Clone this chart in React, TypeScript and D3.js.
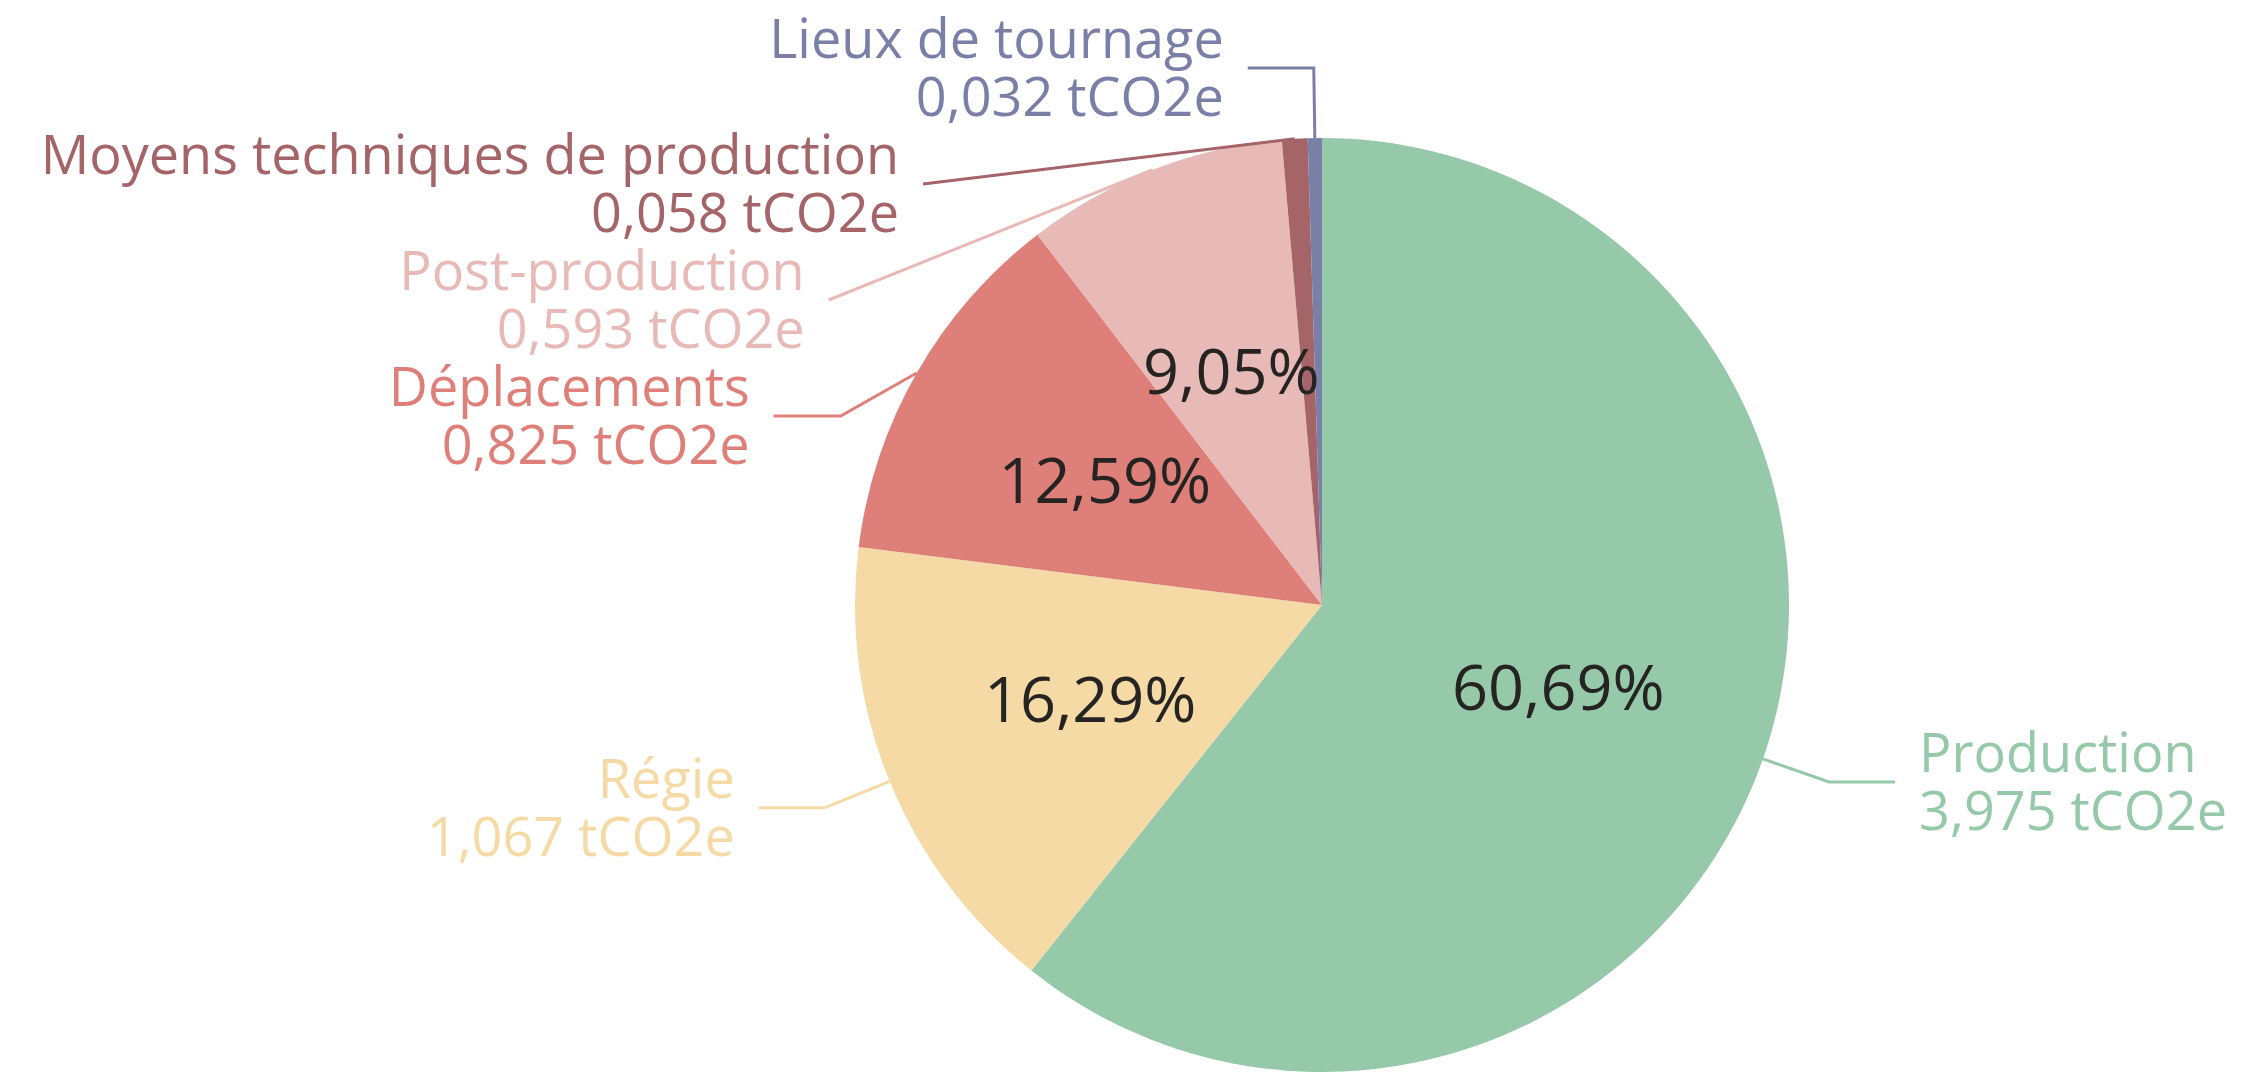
import React from 'react';
import * as d3 from 'd3';

// categories and values (tCO2e)
const categories = ['Production', 'Régie', 'Déplacements', 'Post-production', 'Moyens techniques de production', 'Lieux de tournage'];
const values = [3.975, 1.067, 0.8246, 0.593, 0.058, 0.032];
const colors = ['#95C9AA', '#F5DAA6', '#DF7F79', '#E8BAB7', '#A46468', '#7A7FA8'];

const width = 2262;
const height = 1072;
const cx = 1322;
const cy = 605;
const radius = 467;

const fmtVal = (v: number) => d3.format('.3f')(v).replace('.', ',') + ' tCO2e';
const fmtPct = (v: number) => d3.format('.2f')(v * 100).replace('.', ',') + '%';

const App = () => {
  const data = categories.map((name, i) => ({ name, value: values[i], color: colors[i] }));
  const total = d3.sum(values);

  const pie = d3.pie<any>().sort(null).value((d) => d.value);
  const arcs = pie(data);
  const arc = d3.arc<any>().innerRadius(0).outerRadius(radius);

  // outside label layout: radial elbow, pushed down when labels collide
  const elbowR = radius * 1.15;
  const endR = 580;
  const blockH = 116;
  const labels = arcs.map((a, i) => {
    const mid = (a.startAngle + a.endAngle) / 2;
    const side = Math.sin(mid) >= 0 ? 1 : -1;
    return { i, mid, side, natural: cy - Math.cos(mid) * elbowR, y: 0 };
  });
  [1, -1].forEach((s) => {
    const group = labels.filter((l) => l.side === s).sort((a, b) => a.natural - b.natural);
    let prev = -Infinity;
    group.forEach((l) => {
      l.y = Math.max(l.natural, prev + blockH);
      prev = l.y;
    });
  });

  const line = d3.line();

  return (
    <svg width={width} height={height} style={{ position: 'absolute', left: 0, top: 0, background: '#fff' }}
      fontFamily="'Open Sans', 'Noto Sans', sans-serif">
      <g transform={`translate(${cx},${cy})`}>
        {arcs.map((a, i) => (
          <path key={i} d={arc(a) as string} fill={data[i].color} />
        ))}
      </g>
      {labels.map((l) => {
        const d = data[l.i];
        const p0: [number, number] = [cx + Math.sin(l.mid) * radius, cy - Math.cos(l.mid) * radius];
        const pushed = l.y - l.natural;
        let pts: [number, number][];
        let endX: number;
        if (pushed < 1) {
          const ex = cx + Math.sin(l.mid) * elbowR;
          endX = ex + l.side * 66;
          pts = [p0, [ex, l.y], [endX, l.y]];
        } else {
          endX = cx + l.side * Math.sqrt(endR * endR - (l.y - cy) * (l.y - cy));
          pts = pushed < 100 ? [p0, [endX - l.side * 67, l.y], [endX, l.y]] : [p0, [endX, l.y]];
        }
        const tx = endX + l.side * 24;
        const anchor = l.side > 0 ? 'start' : 'end';
        return (
          <g key={l.i}>
            <path d={line(pts) as string} fill="none" stroke={d.color} strokeWidth={3} />
            <text textAnchor={anchor} fontSize={54} fill={d.color}>
              <tspan x={tx} y={l.y - 29} dy="0.36em">{d.name}</tspan>
              <tspan x={tx} y={l.y + 29} dy="0.36em">{fmtVal(d.value)}</tspan>
            </text>
          </g>
        );
      })}
      {arcs.map((a, i) => {
        const frac = a.data.value / total;
        if (frac < 0.05) return null;
        const mid = (a.startAngle + a.endAngle) / 2;
        const r = radius * 0.536;
        return (
          <text key={i} x={cx + Math.sin(mid) * r} y={cy - Math.cos(mid) * r} dy="0.36em" textAnchor="middle"
            fontSize={63} fill="#252423">{fmtPct(frac)}</text>
        );
      })}
    </svg>
  );
};

export default App;
